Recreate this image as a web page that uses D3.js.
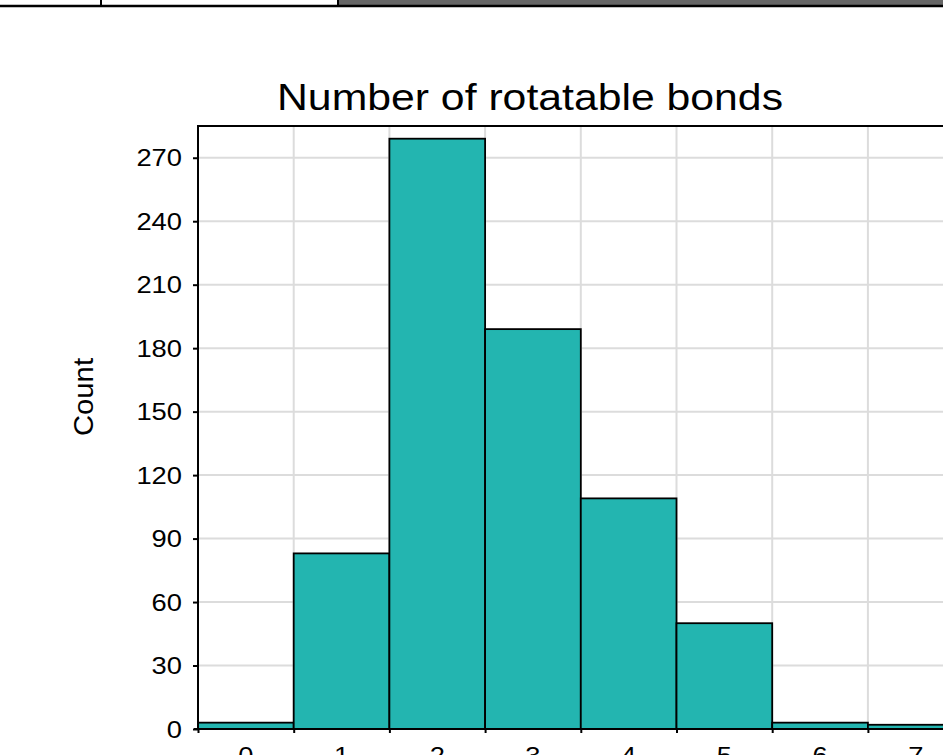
<!DOCTYPE html>
<html>
<head>
<meta charset="utf-8">
<script src="https://cdn.jsdelivr.net/npm/d3@7"></script>
<style>
  body { margin: 0; background: #fff; overflow: hidden; }
  svg { display: block; font-family: "Liberation Sans", Arial, sans-serif; }
</style>
</head>
<body>
<div id="chart"></div>
<script>
// histogram bins (number of rotatable bonds) and counts
var bins = [0, 1, 2, 3, 4, 5, 6, 7];
var counts = [3, 83, 279, 189, 109, 50, 3, 2];
var yTicks = [0, 30, 60, 90, 120, 150, 180, 210, 240, 270];

var width = 943, height = 755;
var plotLeft = 198, plotTop = 126, plotBottom = 729;
var binWidth = 95.7;
var digitW = 15.2; // tick labels in the picture are drawn a bit wide

var svg = d3.select("#chart")
    .append("svg")
    .attr("width", width)
    .attr("height", height);

// bits of the surrounding table at the top
svg.append("rect")
    .attr("x", 339).attr("y", 0)
    .attr("width", width - 339).attr("height", 6)
    .attr("fill", "#666");
svg.append("line")
    .attr("x1", 0).attr("x2", width)
    .attr("y1", 6).attr("y2", 6)
    .attr("stroke", "#000").attr("stroke-width", 2.5);
[101, 338].forEach(function(x) {
  svg.append("line")
      .attr("x1", x).attr("x2", x)
      .attr("y1", 0).attr("y2", 6)
      .attr("stroke", "#000").attr("stroke-width", 2);
});

var x = d3.scaleLinear()
    .domain([0, 10])
    .range([plotLeft, plotLeft + binWidth * 10]);

var y = d3.scaleLinear()
    .domain([0, 285])
    .range([plotBottom, plotTop]);

// grid
svg.append("g")
    .selectAll("line")
    .data(yTicks.slice(1))
    .enter()
    .append("line")
    .attr("x1", plotLeft).attr("x2", width)
    .attr("y1", function(d) { return y(d); })
    .attr("y2", function(d) { return y(d); })
    .attr("stroke", "#dcdcdc").attr("stroke-width", 2);

svg.append("g")
    .selectAll("line")
    .data(d3.range(1, 10))
    .enter()
    .append("line")
    .attr("x1", function(d) { return x(d); })
    .attr("x2", function(d) { return x(d); })
    .attr("y1", plotTop).attr("y2", plotBottom)
    .attr("stroke", "#dcdcdc").attr("stroke-width", 2);

// bars
svg.append("g")
    .selectAll("rect")
    .data(bins)
    .enter()
    .append("rect")
    .attr("x", function(d) { return x(d); })
    .attr("y", function(d, i) { return y(counts[i]); })
    .attr("width", binWidth)
    .attr("height", function(d, i) { return plotBottom - y(counts[i]); })
    .attr("fill", "#23b5b0")
    .attr("stroke", "#000")
    .attr("stroke-width", 1.8);

// frame
svg.append("line")
    .attr("x1", plotLeft).attr("x2", width)
    .attr("y1", plotTop).attr("y2", plotTop)
    .attr("stroke", "#000").attr("stroke-width", 2);

var yAxis = svg.append("g")
    .attr("transform", "translate(" + plotLeft + ",0)")
    .call(d3.axisLeft(y).tickValues(yTicks).tickSize(5).tickPadding(11));
yAxis.select(".domain").remove();
yAxis.selectAll(".tick line").attr("stroke", "#000").attr("stroke-width", 2);
yAxis.selectAll("text")
    .attr("font-size", 23)
    .attr("fill", "#000")
    .attr("font-family", "Liberation Sans, Arial, sans-serif")
    .attr("dy", "0.35em")
    .attr("textLength", function(d) { return String(d).length * digitW; })
    .attr("lengthAdjust", "spacingAndGlyphs");
svg.append("line")
    .attr("x1", plotLeft).attr("x2", plotLeft)
    .attr("y1", plotTop - 1).attr("y2", plotBottom + 1)
    .attr("stroke", "#000").attr("stroke-width", 2);

var xAxis = svg.append("g")
    .attr("transform", "translate(0," + plotBottom + ")")
    .call(d3.axisBottom(x).tickValues(d3.range(0, 10)).tickSize(4).tickFormat(""));
xAxis.select(".domain").remove();
xAxis.selectAll(".tick line").attr("stroke", "#000").attr("stroke-width", 2);
svg.append("line")
    .attr("x1", plotLeft - 4).attr("x2", width)
    .attr("y1", plotBottom).attr("y2", plotBottom)
    .attr("stroke", "#000").attr("stroke-width", 2);

// x labels sit under the bar centres, cut off by the window edge
svg.append("g")
    .selectAll("text")
    .data(bins)
    .enter()
    .append("text")
    .attr("x", function(d) { return x(d + 0.5); })
    .attr("y", 764)
    .attr("text-anchor", "middle")
    .attr("font-size", 23)
    .attr("textLength", digitW)
    .attr("lengthAdjust", "spacingAndGlyphs")
    .text(function(d) { return d; });

// title and axis label
svg.append("text")
    .attr("x", 530)
    .attr("y", 110)
    .attr("text-anchor", "middle")
    .attr("font-size", 37)
    .attr("textLength", 506)
    .attr("lengthAdjust", "spacingAndGlyphs")
    .text("Number of rotatable bonds");

svg.append("text")
    .attr("transform", "translate(93,397) rotate(-90)")
    .attr("text-anchor", "middle")
    .attr("font-size", 28)
    .attr("textLength", 78)
    .attr("lengthAdjust", "spacingAndGlyphs")
    .text("Count");
</script>
</body>
</html>
